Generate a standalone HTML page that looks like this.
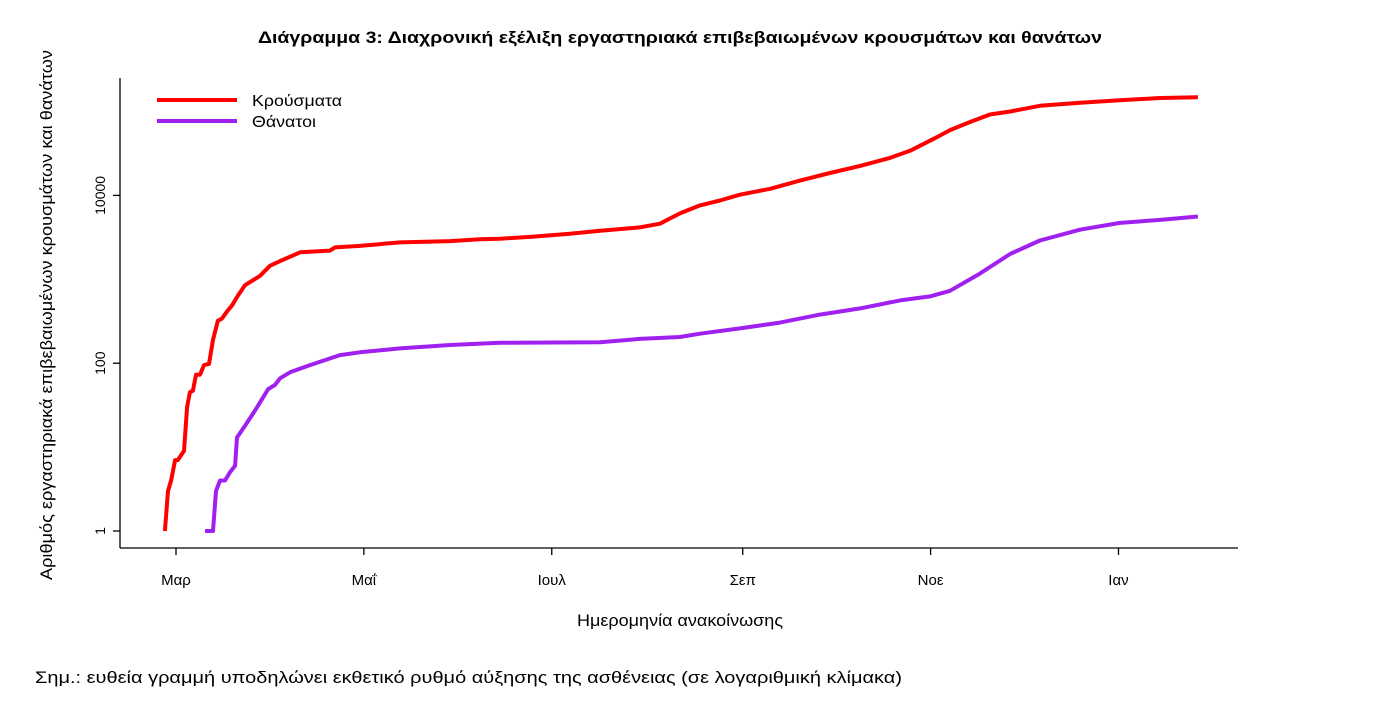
<!DOCTYPE html>
<html><head><meta charset="utf-8"><style>
body{margin:0;background:#fff;}
svg text{font-family:"Liberation Sans",sans-serif;fill:#000;}
</style></head><body>
<svg width="1384" height="702">
<text x="680" y="43" text-anchor="middle" font-size="17" font-weight="bold" textLength="844" lengthAdjust="spacingAndGlyphs">Διάγραμμα 3: Διαχρονική εξέλιξη εργαστηριακά επιβεβαιωμένων κρουσμάτων και θανάτων</text>
<g id="axes"></g>
<g id="series"></g>
<g>
<line x1="157" y1="100" x2="237" y2="100" stroke="#ff0000" stroke-width="4"/>
<text x="252" y="106" font-size="16" textLength="90" lengthAdjust="spacingAndGlyphs">Κρούσματα</text>
<line x1="157" y1="121" x2="237" y2="121" stroke="#a020f0" stroke-width="4"/>
<text x="252" y="127" font-size="16" textLength="64" lengthAdjust="spacingAndGlyphs">Θάνατοι</text>
</g>
<text x="680" y="626" text-anchor="middle" font-size="17" textLength="206" lengthAdjust="spacingAndGlyphs">Ημερομηνία ανακοίνωσης</text>
<text transform="translate(52,315) rotate(-90)" text-anchor="middle" font-size="17" textLength="530" lengthAdjust="spacingAndGlyphs">Αριθμός εργαστηριακά επιβεβαιωμένων κρουσμάτων και θανάτων</text>
<text x="35" y="683" font-size="17" textLength="867" lengthAdjust="spacingAndGlyphs">Σημ.: ευθεία γραμμή υποδηλώνει εκθετικό ρυθμό αύξησης της ασθένειας (σε λογαριθμική κλίμακα)</text>
</svg>
<script>
const caseDays=[-3.6,-2.6,-1.6,-0.3,0.6,2.6,3.6,4.5,5.5,6.5,7.8,9.1,10.7,12,13.6,14.9,16.9,18.2,20.1,22.4,27.3,30.5,33.8,40.3,50,51.6,59.7,72.7,89,98.7,105.2,114.9,127.9,137.7,150.6,157.1,163.6,170.1,176.6,183.1,192.9,202.6,212.3,222.1,231.8,238.3,246.4,251.3,257.8,264.3,270.8,280.5,293.5,306.5,319.5,331.8];
const caseValues=[1,3,4,7,7,9,30,45,47,73,73,95,98,190,320,340,430,490,640,850,1100,1450,1650,2100,2200,2400,2500,2750,2850,3000,3050,3200,3500,3800,4150,4600,6100,7600,8700,10200,12000,15000,18500,22500,28000,34000,48000,60000,75000,92000,100000,117000,127000,136000,145000,148000];
const deathDays=[9.4,12,13,14.3,15.9,17.5,19.2,19.8,22.4,25.6,29.9,32.1,33.8,37,43.5,53.2,59.7,72.7,89,105.2,137.7,150.6,163.6,170.1,183.1,196.1,209.1,222.1,235.1,244.8,251.3,261,270.8,280.5,293.5,306.5,319.5,331.8];
const deathValues=[1,1,3,4,4,5,6,13,18,27,49,55,66,78,95,125,135,150,165,175,178,195,205,225,260,305,380,450,560,625,730,1170,2000,2900,3900,4700,5100,5600];
const xTickLabels=["Μαρ","Μαΐ","Ιουλ","Σεπ","Νοε","Ιαν"];
const xTickDays=[0,61,122,184,245,306];
const yTickValues=[1,100,10000];
const yTickLabels=["1","100","10000"];
const NS="http://www.w3.org/2000/svg";
const xs=d=>176+d*3.08;
const ys=v=>531-Math.log10(v)*83.9;
const axes=document.getElementById('axes'),series=document.getElementById('series');
function mk(p,tag,attrs){const e=document.createElementNS(NS,tag);for(const k in attrs)e.setAttribute(k,attrs[k]);p.appendChild(e);return e;}
let e=mk(axes,'line',{x1:120,y1:78,x2:120,y2:548,stroke:'#000','stroke-width':1.3});


e=mk(axes,'line',{x1:120,y1:548,x2:1238,y2:548,stroke:'#000','stroke-width':1.3});


yTickValues.forEach((v,i)=>{const y=ys(v);
 e=mk(axes,'line',{x1:113,y1:y,x2:120,y2:y,stroke:'#000','stroke-width':1.3});
 
 
 const t=mk(axes,'text',{transform:`translate(105,${y}) rotate(-90)`,'text-anchor':'middle','font-size':14});
 t.textContent=yTickLabels[i];
 
 
});
xTickDays.forEach((d,i)=>{const x=xs(d);
 e=mk(axes,'line',{x1:x,y1:548,x2:x,y2:555,stroke:'#000','stroke-width':1.3});
 
 
 const t=mk(axes,'text',{x:x,y:585,'text-anchor':'middle','font-size':15});
 t.textContent=xTickLabels[i];
 
 
});
function line(days,vals,color,name){
 const pts=days.map((d,i)=>xs(d).toFixed(1)+','+ys(vals[i]).toFixed(1)).join(' ');
 const p=mk(series,'polyline',{points:pts,fill:'none',stroke:color,'stroke-width':4,'stroke-linejoin':'round'});
 
 
}
line(caseDays,caseValues,'#ff0000','cases-line');
line(deathDays,deathValues,'#a020f0','deaths-line');
</script>
</body></html>
